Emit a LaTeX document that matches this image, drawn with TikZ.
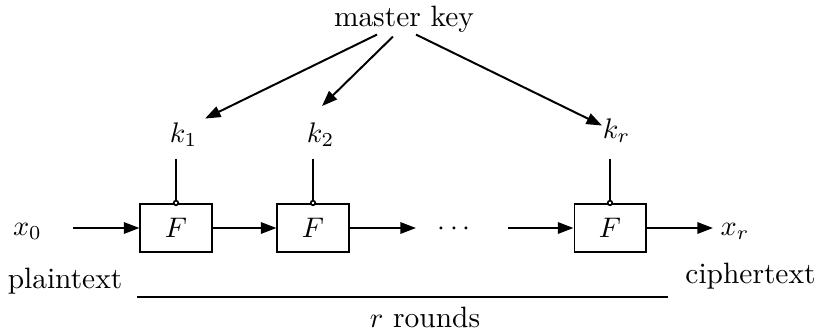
\documentclass[tikz,border=0pt]{standalone}
\usetikzlibrary{arrows.meta,calc}
\begin{document}
\begin{tikzpicture}[x=0.3534pt,y=-0.3534pt,line width=0.7pt,
  font=\fontsize{10.4pt}{12.5pt}\selectfont,
  arr/.style={-{Triangle[length=5.5pt,width=4pt]}},
  fbox/.style={draw,minimum width=25.1pt,minimum height=17pt,inner sep=0pt},
  lbl/.style={anchor=base,inner sep=1pt},
  kdot/.style={circle,draw,fill=white,inner sep=0pt,minimum size=1.6pt,line width=0.6pt}]
\useasboundingbox (0,0) rectangle (819,331);
% labels
\node[lbl] (mk) at (404,26.7) {master key};
\node[lbl] (k1) at (183.5,142) {$k_1$};
\node[lbl] (k2) at (320.5,142) {$k_2$};
\node[lbl] (kr) at (616.5,138) {$k_r$};
\node[lbl] (x0) at (27.5,235) {$x_0$};
\node[lbl] (xr) at (735,235) {$x_r$};
\node[lbl] (dots) at (454,235) {$\cdots$};
\node[lbl] (plain) at (65,288) {plaintext};
\node[lbl] (cipher) at (750.5,283) {ciphertext};
\node[lbl] (rr) at (425,327) {$r$ rounds};
% boxes
\node[fbox] (F1) at (176,228) {$F$};
\node[fbox] (F2) at (313,228) {$F$};
\node[fbox] (F3) at (610,228) {$F$};
% free ends
\coordinate (in0) at (73,228);
\coordinate (out2) at (416,228);
\coordinate (in3) at (508,228);
\coordinate (out3) at (713,228);
\coordinate (rl) at (137,296.5);
\coordinate (rrr) at (668,296.5);
% master key arrows
\draw[arr] ($(mk.south)+(-27,-2)$) -- ($(k1.north east)+(4,0)$);
\draw[arr] ($(mk.south)+(-11,0)$) -- ($(k2.north)+(1.5,-12.5)$);
\draw[arr] ($(mk.south)+(12,-2)$) -- ($(kr.north west)+(3,11)$);
% key lines
\draw ($(F1.north)+(0,-44)$) -- (F1.north);
\draw ($(F2.north)+(0,-44)$) -- (F2.north);
\draw ($(F3.north)+(0,-44)$) -- (F3.north);
\node[kdot] (c1) at (F1.north) {};
\node[kdot] (c2) at (F2.north) {};
\node[kdot] (c3) at (F3.north) {};
% data path
\draw[arr] (in0) -- (F1.west);
\draw[arr] (F1.east) -- (F2.west);
\draw[arr] (F2.east) -- (out2);
\draw[arr] (in3) -- (F3.west);
\draw[arr] (F3.east) -- (out3);
% rounds line
\draw (rl) -- (rrr);
\end{tikzpicture}
\end{document}
